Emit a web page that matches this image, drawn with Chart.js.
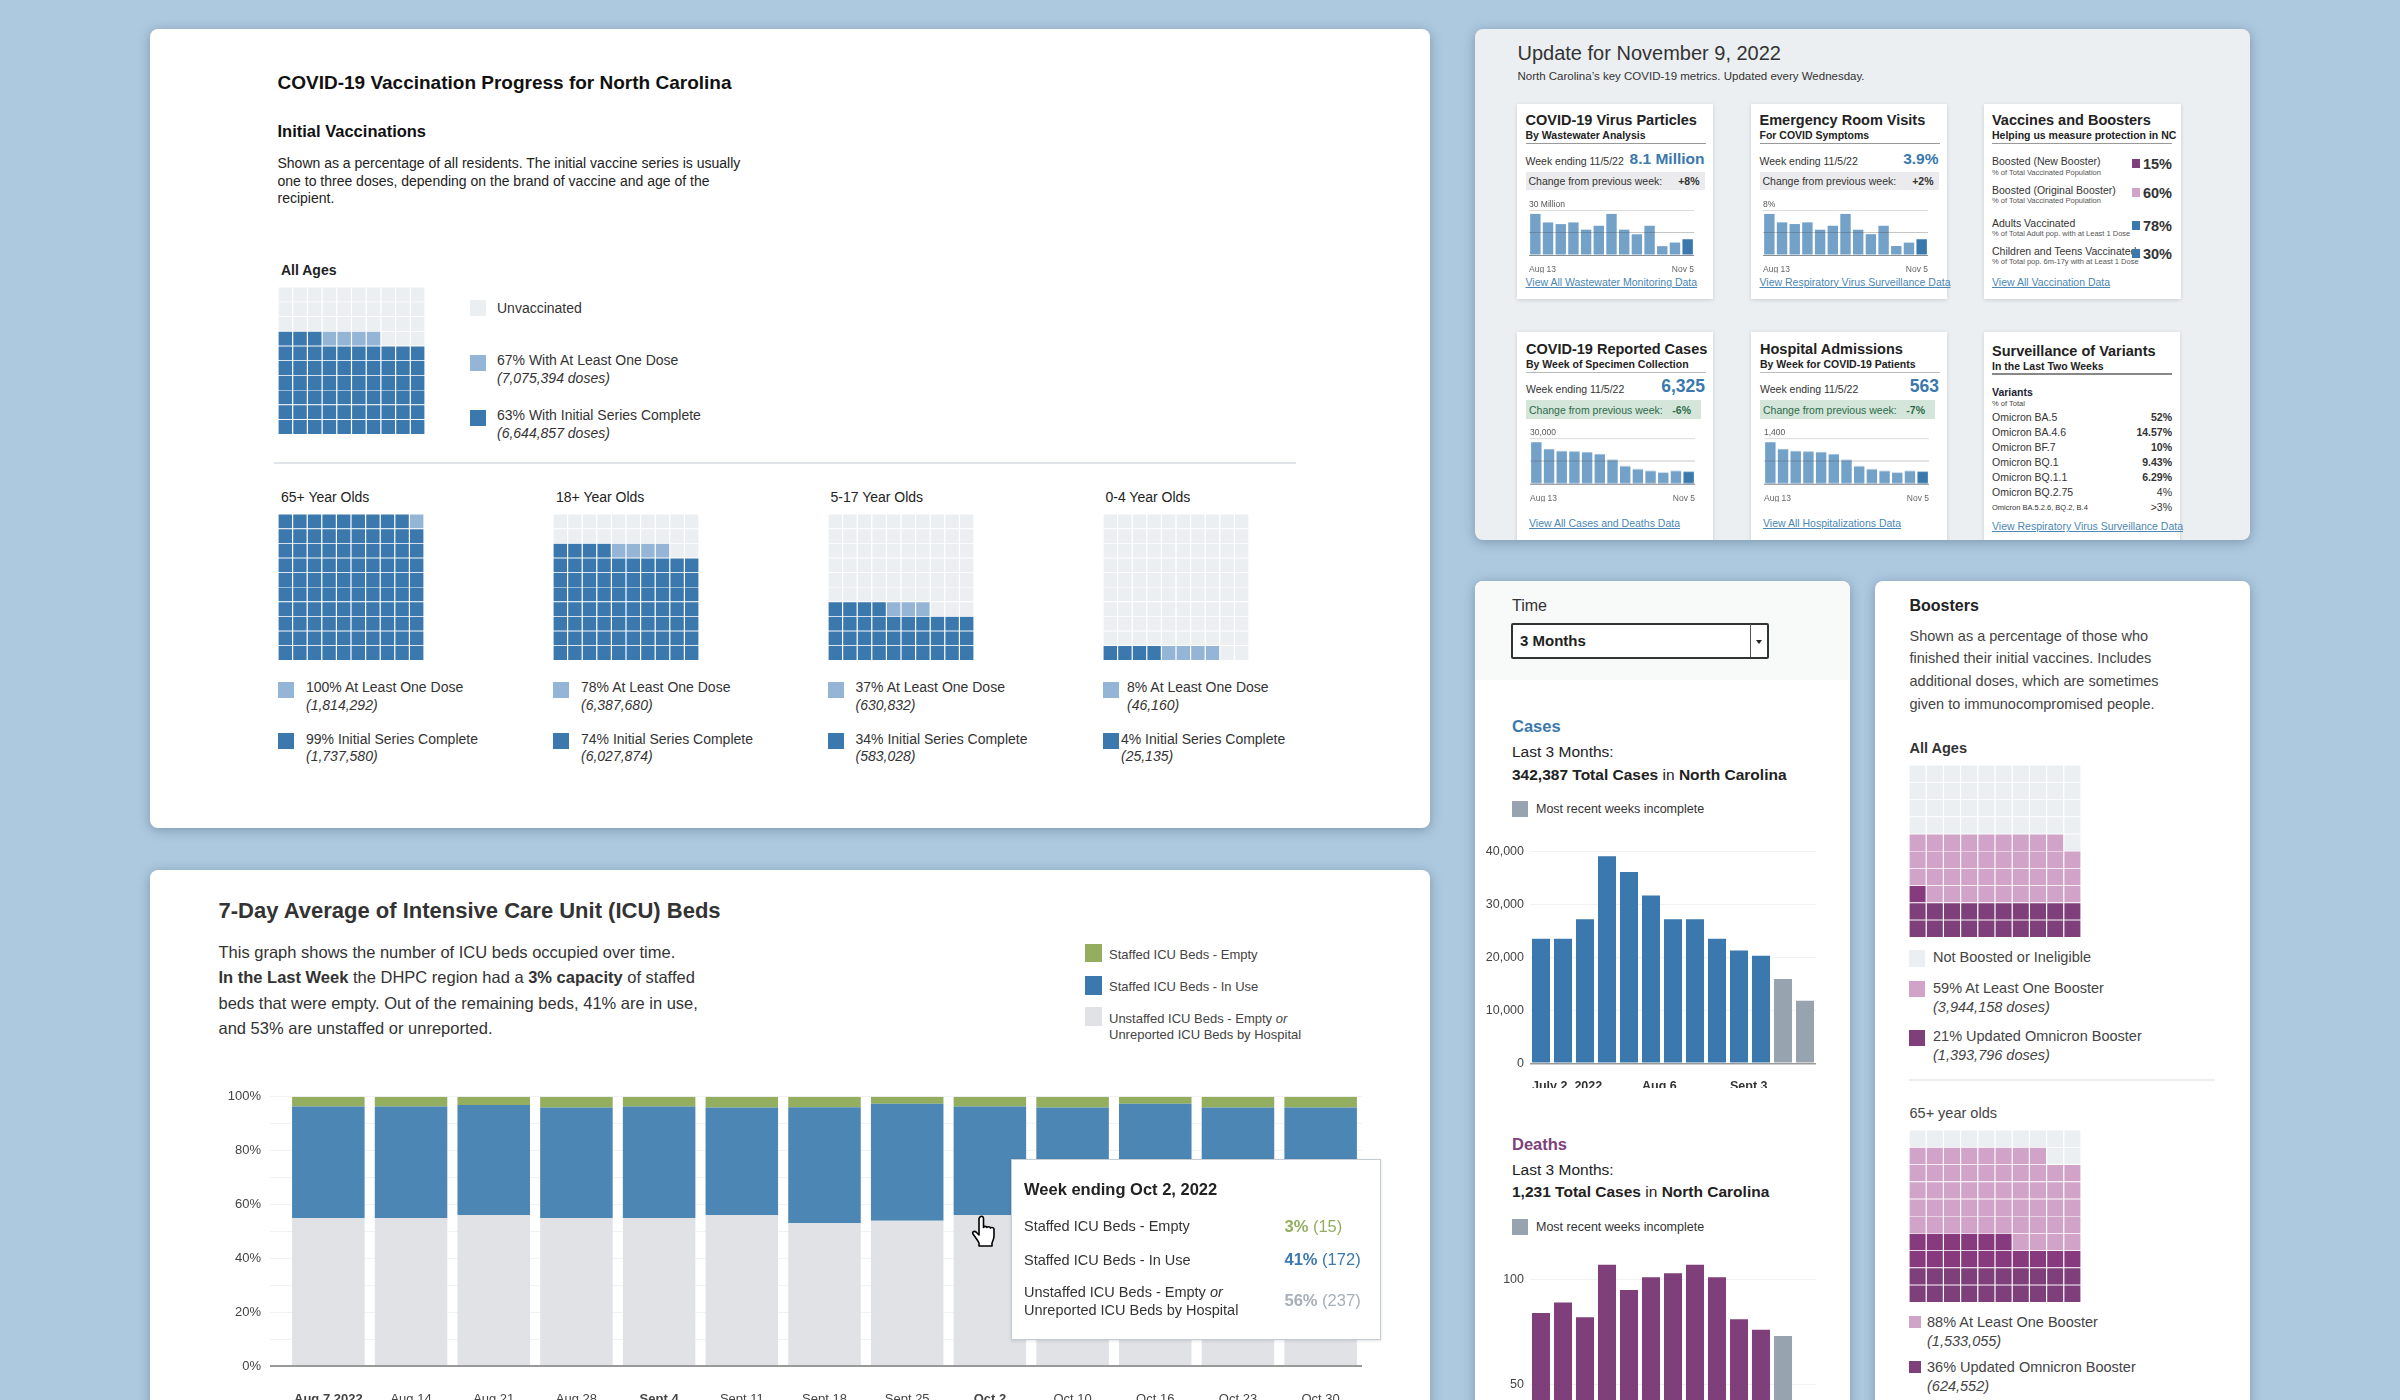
<!DOCTYPE html>
<html>
<head>
<meta charset="utf-8">
<title>COVID-19 dashboard panels</title>
<script src="https://cdn.jsdelivr.net/npm/chart.js@4"></script>
<style>
html, body { margin: 0; padding: 0; width: 2400px; height: 1400px; overflow: hidden; background: #adc9df; }
body { font-family: "Liberation Sans", Arial, sans-serif; color: #333; }
.panel { position: absolute; overflow: hidden; border-radius: 8px; box-shadow: 0 2px 12px rgba(50,75,100,.4); background: #fff; }
.card { position: absolute; background: #fff; box-shadow: 0 1px 4px rgba(0,0,0,.14); }
.t { position: absolute; white-space: nowrap; transform: translateY(-50%); }
.r { transform: translate(-100%,-50%); }
.box { position: absolute; }
canvas { position: absolute; }
a, .lnk { color: #4a87b4; text-decoration: underline; }
</style>
</head>
<body>
<script>
'use strict';

// ICU chart
var icuWeeks = ['Aug 7,2022','Aug 14','Aug 21','Aug 28','Sept 4','Sept 11','Sept 18','Sept 25','Oct 2','Oct 10','Oct 16','Oct 23','Oct 30'];
var icuBold = ['Aug 7,2022','Sept 4','Oct 2'];
var icuUnstaffed = [55,55,56,55,55,56,53,54,56,55,55,55,55];
var icuInUse = [41.4,41.4,41,41,41.4,40,43.1,43.4,40.4,41,42.4,41,41];
var icuEmpty = [3.6,3.6,3,4,3.6,4,3.9,2.6,3.6,4,2.6,4,4];

// cases + deaths, last bars are the incomplete weeks
var weeks = ['July 2, 2022','July 9','July 16','July 23','July 30','Aug 6','Aug 13','Aug 20','Aug 27','Sept 3','Sept 10','Sept 17','Sept 24'];
var weeksShown = ['July 2, 2022','Aug 6','Sept 3'];
var casesValues = [23500,23500,27200,39100,36150,31700,27200,27200,23500,21300,20300,15900,11800];
var deathsValues = [84,89,82,107,95,101,103,107,101,81,76,73,null];
var casesIncompleteFrom = 11;
var deathsIncompleteFrom = 11;

// small charts in the update panel
var miniWeeks = ['Aug 13','Aug 20','Aug 27','Sep 3','Sep 10','Sep 17','Sep 24','Oct 1','Oct 8','Oct 15','Oct 22','Oct 29','Nov 5'];
var virusValues = [27.4,21.7,20.6,21.7,16.9,19.5,27.4,16.9,13.8,19.5,5.9,8.3,10.5];
var erValues = [7.3,5.8,5.5,5.8,4.5,5.2,7.3,4.5,3.7,5.2,1.6,2.2,2.8];
var reportedValues = [27350,22700,21400,21200,20700,19400,15700,11500,9500,8400,7300,8400,7900];
var admissionValues = [1276,1060,999,988,968,905,731,535,443,391,340,391,371];

// waffles, in percent
var initialGroups = ['All Ages','65+ Year Olds','18+ Year Olds','5-17 Year Olds','0-4 Year Olds'];
var initialOneDose = [67,100,78,37,8];
var initialComplete = [63,99,74,34,4];
var oneDoseCounts = ['(7,075,394 doses)','(1,814,292)','(6,387,680)','(630,832)','(46,160)'];
var completeCounts = ['(6,644,857 doses)','(1,737,580)','(6,027,874)','(583,028)','(25,135)'];
var boosterAny = [59,88];
var boosterUpdated = [21,36];

Chart.defaults.font.family = '"Liberation Sans", Arial, sans-serif';
Chart.defaults.color = '#444';
Chart.defaults.animation = false;
Chart.defaults.responsive = false;
Chart.defaults.plugins.legend.display = false;
Chart.defaults.plugins.tooltip.enabled = false;

var BLUE = '#3a78ad', LIGHTBLUE = '#94b5d6', EMPTY = '#ebeff2';
var PURPLE = '#7f3f7a', PURPLE2 = '#883a7e', PINK = '#d2a3c8', GREY = '#97a3ae';

function panel(x, y, w, h, bg) {
  var el = document.createElement('div');
  el.className = 'panel';
  el.style.cssText = 'left:'+x+'px;top:'+y+'px;width:'+w+'px;height:'+h+'px;' + (bg ? 'background:'+bg+';' : '');
  document.body.appendChild(el);
  return {el: el, x: x, y: y};
}

// x,y are page coordinates, y is the middle of the text line
function put(p, html, x, y, css, right) {
  var el = document.createElement('div');
  el.className = right ? 't r' : 't';
  el.style.cssText = 'left:'+(x-p.x)+'px;top:'+(y-p.y)+'px;' + (css || '');
  el.innerHTML = html;
  p.el.appendChild(el);
  return el;
}

function box(p, x, y, w, h, css, cls) {
  var el = document.createElement('div');
  el.className = cls || 'box';
  el.style.cssText = 'left:'+(x-p.x)+'px;top:'+(y-p.y)+'px;width:'+w+'px;height:'+h+'px;' + (css || '');
  p.el.appendChild(el);
  return el;
}

function canvas(p, x, y, w, h) {
  var c = document.createElement('canvas');
  c.width = w; c.height = h;
  c.style.cssText = 'left:'+(x-p.x)+'px;top:'+(y-p.y)+'px;width:'+w+'px;height:'+h+'px;';
  p.el.appendChild(c);
  return c.getContext('2d');
}

function waffle(p, x, y, size, dark, light, darkColor, lightColor, bottomColor) {
  var datasets = [];
  for (var row = 0; row < 10; row++) {
    var ones = [], colors = [];
    for (var col = 0; col < 10; col++) {
      var n = row*10 + col;
      ones.push(1);
      if (n < dark) colors.push(bottomColor && row < 2 ? bottomColor : darkColor);
      else if (n < light) colors.push(lightColor);
      else colors.push(EMPTY);
    }
    datasets.push({data: ones, backgroundColor: colors, borderColor: '#fff', borderWidth: 0.6, inflateAmount: 0, barPercentage: 1, categoryPercentage: 1});
  }
  new Chart(canvas(p, x, y, size, size), {
    type: 'bar',
    data: {labels: [1,2,3,4,5,6,7,8,9,10], datasets: datasets},
    options: {scales: {
      x: {stacked: true, display: false},
      y: {stacked: true, display: false, min: 0, max: 10}
    }}
  });
}

function mini(p, x, top, base, values, maxValue, topLabel) {
  var colors = values.map(function(v, i) { return i === values.length-1 ? BLUE : '#73a1c7'; });
  new Chart(canvas(p, x, top-10, 169, base-top+10+18), {
    type: 'bar',
    data: {labels: miniWeeks, datasets: [{data: values, backgroundColor: colors, barPercentage: 0.82, categoryPercentage: 1}]},
    options: {
      layout: {padding: {top: 10}},
      scales: {
        x: {grid: {display: false}, border: {display: false}, ticks: {display: false},
            afterFit: function(s) { s.height = 0; }},
        ends: {type: 'category', position: 'bottom', offset: false, grid: {display: false}, border: {display: false},
            afterFit: function(s) { s.height = 18; },
            ticks: {autoSkip: false, maxRotation: 0, align: 'inner', padding: 2, color: '#666', font: {size: 8.5},
              callback: function(v, i) { return (i === 0 || i === miniWeeks.length-1) ? miniWeeks[i] : ''; }}},
        y: {min: 0, max: maxValue, border: {display: false},
            grid: {z: 1, drawTicks: false, color: function(c) {
              if (c.tick.value === 0) return '#8a8f94';
              return c.tick.value === maxValue ? '#dcdcdc' : 'rgba(70,70,70,.3)';
            }},
            afterBuildTicks: function(s) { s.ticks = [{value: 0}, {value: maxValue/2}, {value: maxValue}]; },
            ticks: {mirror: true, padding: 0, labelOffset: -5, color: '#555', font: {size: 8.5},
              callback: function(v) { return v === maxValue ? topLabel : ''; }}}
      }
    }
  });
}

function weeklyBars(p, top, paddingTop, height, bottomHeight, values, incompleteFrom, color, maxValue, step) {
  var colors = values.map(function(v, i) { return i >= incompleteFrom ? GREY : color; });
  new Chart(canvas(p, 1480, top, 345, height), {
    type: 'bar',
    data: {labels: weeks, datasets: [{data: values, backgroundColor: colors, barPercentage: 0.82, categoryPercentage: 1}]},
    options: {
      layout: {padding: {top: paddingTop, right: 9}},
      scales: {
        x: {grid: {display: false}, border: {display: false},
            afterFit: function(s) { s.height = bottomHeight; },
            ticks: {autoSkip: false, maxRotation: 0, align: 'start', labelOffset: -9, padding: 8, color: '#333', font: {size: 12.5, weight: 'bold'},
              callback: function(v, i) { return weeksShown.indexOf(weeks[i]) >= 0 ? weeks[i] : ''; }}},
        y: {min: 0, max: maxValue, border: {display: false},
            afterFit: function(s) { s.width = 50; },
            grid: {drawTicks: false, color: function(c) { return c.tick.value === 0 ? '#999' : '#f1f2f3'; }, lineWidth: function(c) { return c.tick.value === 0 ? 1.5 : 1; }},
            ticks: {stepSize: step, includeBounds: false, padding: 6, font: {size: 12.5},
              callback: function(v) { return v.toLocaleString('en-US'); }}}
      }
    }
  });
}

// ---- vaccination panel
var a = panel(150, 29, 1280, 799);
put(a, 'COVID-19 Vaccination Progress for North Carolina', 277.5, 83, 'font:bold 19px "Liberation Sans";color:#111');
put(a, 'Initial Vaccinations', 277.5, 131, 'font:bold 16.5px "Liberation Sans";color:#111');
var introLines = ['Shown as a percentage of all residents. The initial vaccine series is usually','one to three doses, depending on the brand of vaccine and age of the','recipient.'];
introLines.forEach(function(s, i) { put(a, s, 277.5, 163+i*17.5, 'font:14px "Liberation Sans";color:#222'); });
put(a, initialGroups[0], 281, 270, 'font:bold 14px "Liberation Sans";color:#222');
waffle(a, 278, 287, 147, initialComplete[0], initialOneDose[0], BLUE, LIGHTBLUE);
box(a, 470, 300, 16, 16, 'background:'+EMPTY);
put(a, 'Unvaccinated', 497, 308, 'font:14px "Liberation Sans"');
box(a, 470, 355, 16, 16, 'background:'+LIGHTBLUE);
put(a, initialOneDose[0]+'% With At Least One Dose', 497, 360, 'font:14px "Liberation Sans"');
put(a, '<i>'+oneDoseCounts[0]+'</i>', 497, 378, 'font:14px "Liberation Sans"');
box(a, 470, 410, 16, 16, 'background:'+BLUE);
put(a, initialComplete[0]+'% With Initial Series Complete', 497, 415, 'font:14px "Liberation Sans"');
put(a, '<i>'+completeCounts[0]+'</i>', 497, 433, 'font:14px "Liberation Sans"');
box(a, 274, 462, 1022, 2, 'background:#e1e4e8');

var groupX = [278, 553, 827.5, 1102.5];
var doseTextX = [306, 581, 855.5, 1127];
var completeTextX = [306, 581, 855.5, 1121];
for (var g = 0; g < 4; g++) {
  var gx = groupX[g];
  put(a, initialGroups[g+1], gx+3, 497, 'font:14px "Liberation Sans";color:#222');
  waffle(a, gx, 514, 146, initialComplete[g+1], initialOneDose[g+1], BLUE, LIGHTBLUE);
  box(a, gx, 682, 16, 16, 'background:'+LIGHTBLUE);
  put(a, initialOneDose[g+1]+'% At Least One Dose', doseTextX[g], 687, 'font:14px "Liberation Sans"');
  put(a, '<i>'+oneDoseCounts[g+1]+'</i>', doseTextX[g], 705, 'font:14px "Liberation Sans"');
  box(a, gx, 733, 16, 16, 'background:'+BLUE);
  put(a, initialComplete[g+1]+'% Initial Series Complete', completeTextX[g], 738.5, 'font:14px "Liberation Sans"');
  put(a, '<i>'+completeCounts[g+1]+'</i>', completeTextX[g], 756, 'font:14px "Liberation Sans"');
}

// ---- ICU panel
var c = panel(150, 870, 1280, 560);
put(c, '7-Day Average of Intensive Care Unit (ICU) Beds', 218.5, 911, 'font:bold 22px "Liberation Sans";color:#333');
var s17 = 'font:16.5px "Liberation Sans";color:#333';
put(c, 'This graph shows the number of ICU beds occupied over time.', 218.5, 952, s17);
put(c, '<b>In the Last Week</b> the DHPC region had a <b>3% capacity</b> of staffed', 218.5, 977, s17);
put(c, 'beds that were empty. Out of the remaining beds, 41% are in use,', 218.5, 1003, s17);
put(c, 'and 53% are unstaffed or unreported.', 218.5, 1028, s17);
var s13 = 'font:13px "Liberation Sans";color:#444';
box(c, 1085, 944, 17, 18, 'background:#93ae5f');
put(c, 'Staffed ICU Beds - Empty', 1109, 954, s13);
box(c, 1085, 976, 17, 19, 'background:'+BLUE);
put(c, 'Staffed ICU Beds - In Use', 1109, 986, s13);
box(c, 1085, 1007, 17, 19, 'background:#e0e2e6');
put(c, 'Unstaffed ICU Beds - Empty <i>or</i>', 1109, 1018, s13);
put(c, 'Unreported ICU Beds by Hospital', 1109, 1034, s13);

new Chart(canvas(c, 200, 1080, 1180, 320), {
  type: 'bar',
  data: {labels: icuWeeks, datasets: [
    {data: icuUnstaffed, backgroundColor: '#e0e2e6', barPercentage: 0.877, categoryPercentage: 1},
    {data: icuInUse, backgroundColor: '#4b86b4', barPercentage: 0.877, categoryPercentage: 1},
    {data: icuEmpty, backgroundColor: '#93ae5f', barPercentage: 0.877, categoryPercentage: 1}
  ]},
  options: {
    layout: {padding: {top: 10.7, right: 18}},
    scales: {
      x: {stacked: true, grid: {display: false}, border: {display: false},
          afterFit: function(s) { s.height = 34; },
          ticks: {autoSkip: false, maxRotation: 0, padding: 18, color: '#444',
            font: function(ctx) { return {size: 13, weight: icuBold.indexOf(ctx.tick.label) >= 0 ? 'bold' : 'normal'}; }}},
      y: {stacked: true, min: 0, max: 100, border: {display: false},
          afterFit: function(s) { s.width = 87; },
          grid: {tickLength: 17, color: function(ctx) { return ctx.tick.value === 0 ? '#999' : '#f1f2f3'; },
            lineWidth: function(ctx) { return ctx.tick.value === 0 ? 2 : 1; }},
          ticks: {stepSize: 10, padding: 9, autoSkip: false, font: {size: 13},
            callback: function(v) { return v % 20 === 0 ? v+'%' : ''; }}}
    }
  }
});

box(c, 1011, 1159, 368, 179, 'background:#fff;border:1.5px solid #c4ccd4;box-shadow:0 1px 3px rgba(0,0,0,.12)');
put(c, 'Week ending Oct 2, 2022', 1024, 1188.5, 'font:bold 16.5px "Liberation Sans";color:#222');
var s145 = 'font:14.5px "Liberation Sans";color:#333';
put(c, 'Staffed ICU Beds - Empty', 1024, 1226, s145);
put(c, 'Staffed ICU Beds - In Use', 1024, 1260, s145);
put(c, 'Unstaffed ICU Beds - Empty <i>or</i>', 1024, 1292, s145);
put(c, 'Unreported ICU Beds by Hospital', 1024, 1310, s145);
put(c, '<b>3%</b> (15)', 1284.5, 1226, 'font:16.5px "Liberation Sans";color:#93ae5f');
put(c, '<b>41%</b> (172)', 1284.5, 1258.5, 'font:16.5px "Liberation Sans";color:'+BLUE);
put(c, '<b>56%</b> (237)', 1284.5, 1300, 'font:16.5px "Liberation Sans";color:#a7afb8');
var hand = box(c, 971, 1215, 27, 32, '');
hand.innerHTML = '<svg width="27" height="32" viewBox="0 0 27 32"><path d="M9 2c1.5-1.5 3.5-.5 3.5 1.500v9c.5-1.500 3-1.500 3.500 0 .5-1 3-1 3.500.5.5-.8 3-.8 3.500 1v7c0 3-1 5-2 7v3H8v-3c-1-2-3-5-6-9-1-2 1-3.500 3-2l3 3V3.500z" fill="#fff" stroke="#000" stroke-width="1.600" stroke-linejoin="round"/></svg>';

// ---- update panel
var b = panel(1475, 29, 775, 511, '#ebeff2');
put(b, 'Update for November 9, 2022', 1517.5, 53, 'font:20px "Liberation Sans";color:#333');
put(b, 'North Carolina\u2019s key COVID-19 metrics. Updated every Wednesday.', 1517.5, 76, 'font:11.5px "Liberation Sans";color:#333');

function card(x, y, w, h) { box(b, x, y, w, h, '', 'card'); }
function cardHead(x, y, title, sub, ruleWidth, ruleColor) {
  put(b, title, x, y, 'font:bold 14.500px "Liberation Sans";color:#222');
  put(b, sub, x, y+15, 'font:bold 10.500px "Liberation Sans";color:#222');
  box(b, x, y+22.5, ruleWidth, 1.5, 'background:'+ruleColor);
}
function link(x, y, s) { put(b, s, x, y, 'font:10.5px "Liberation Sans"').className += ' lnk'; }

function topCard(x, title, sub, value, change, values, maxValue, topLabel, linkText) {
  card(x, 104, 196, 195);
  var cx = x+8.5;
  cardHead(cx, 120, title, sub, 180, '#999');
  put(b, 'Week ending 11/5/22', cx, 160.5, 'font:10.5px "Liberation Sans";color:#333');
  put(b, value, cx+179, 159, 'font:bold 15.500px "Liberation Sans";color:'+BLUE, true);
  box(b, cx, 172, 179, 18, 'background:#ebebed');
  put(b, 'Change from previous week:', cx+3, 181, 'font:10.5px "Liberation Sans";color:#333');
  put(b, change, cx+174, 181, 'font:bold 10.5px "Liberation Sans";color:#333', true);
  mini(b, x+10, 210, 255.3, values, maxValue, topLabel);
  link(cx, 281.5, linkText);
}
function lowerCard(x, title, sub, value, change, values, maxValue, topLabel, linkText) {
  card(x, 332, 196, 260);
  var cx = x+9;
  cardHead(cx, 349, title, sub, 180, '#bbb');
  put(b, 'Week ending 11/5/22', cx, 389, 'font:10.5px "Liberation Sans";color:#333');
  put(b, value, cx+179, 386, 'font:bold 17.500px "Liberation Sans";color:'+BLUE, true);
  box(b, cx, 400, 175, 19, 'background:#d4e6da');
  put(b, 'Change from previous week:', cx+3, 410, 'font:10.5px "Liberation Sans";color:#2f6b4a');
  put(b, change, cx+165, 410, 'font:bold 10.5px "Liberation Sans";color:#2f6b4a', true);
  mini(b, x+11, 438.3, 483.7, values, maxValue, topLabel);
  link(cx+3, 523, linkText);
}

topCard(1517, 'COVID-19 Virus Particles', 'By Wastewater Analysis', '8.1 Million', '+8%', virusValues, 30, '30 Million', 'View All Wastewater Monitoring Data');
topCard(1751, 'Emergency Room Visits', 'For COVID Symptoms', '3.9%', '+2%', erValues, 8, '8%', 'View Respiratory Virus Surveillance Data');
lowerCard(1517, 'COVID-19 Reported Cases', 'By Week of Specimen Collection', '6,325', '-6%', reportedValues, 30000, '30,000', 'View All Cases and Deaths Data');
lowerCard(1751, 'Hospital Admissions', 'By Week for COVID-19 Patients', '563', '-7%', admissionValues, 1400, '1,400', 'View All Hospitalizations Data');

// vaccines card
card(1984, 104, 197, 195);
cardHead(1992, 120, 'Vaccines and Boosters', 'Helping us measure protection in NC', 180, '#999');
var vaxNames = ['Boosted (New Booster)','Boosted (Original Booster)','Adults Vaccinated','Children and Teens Vaccinated'];
var vaxNotes = ['% of Total Vaccinated Population','% of Total Vaccinated Population','% of Total Adult pop. with at Least 1 Dose','% of Total pop. 6m-17y with at Least 1 Dose'];
var vaxPercent = ['15%','60%','78%','30%'];
var vaxColors = [PURPLE, PINK, BLUE, BLUE];
var vaxY = [161, 189.5, 222.5, 250.5];
vaxNames.forEach(function(name, i) {
  put(b, name, 1992, vaxY[i], 'font:10.5px "Liberation Sans";color:#333');
  put(b, vaxNotes[i], 1992, vaxY[i]+10.5, 'font:7.5px "Liberation Sans";color:#555');
  put(b, vaxPercent[i], 2172, vaxY[i]+3, 'font:bold 14.5px "Liberation Sans";color:#333', true);
  box(b, 2132, vaxY[i]-2, 8, 9, 'background:'+vaxColors[i]);
});
link(1992, 281.5, 'View All Vaccination Data');

// variants card
card(1984, 332, 196, 260);
put(b, 'Surveillance of Variants', 1992, 351, 'font:bold 14.5px "Liberation Sans";color:#222');
put(b, 'In the Last Two Weeks', 1992, 366, 'font:bold 10.5px "Liberation Sans";color:#222');
box(b, 1992, 373, 180, 1.5, 'background:#888');
put(b, 'Variants', 1992, 391.5, 'font:bold 10.5px "Liberation Sans";color:#223');
put(b, '% of Total', 1992, 402.5, 'font:7.5px "Liberation Sans";color:#444');
var variantNames = ['Omicron BA.5','Omicron BA.4.6','Omicron BF.7','Omicron BQ.1','Omicron BQ.1.1','Omicron BQ.2.75','Omicron BA.5.2.6, BQ.2, B.4'];
var variantShare = ['52%','14.57%','10%','9.43%','6.29%','4%','>3%'];
var variantY = [416.7,431.7,446.7,461.7,476.7,491.7,507.3];
variantNames.forEach(function(name, i) {
  put(b, name, 1992, variantY[i], 'font:'+(i === 6 ? '7.5' : '10.5')+'px "Liberation Sans";color:#333');
  put(b, variantShare[i], 2172, variantY[i], 'font:'+(i < 5 ? 'bold ' : '')+'10.5px "Liberation Sans";color:#333', true);
});
link(1992, 526, 'View Respiratory Virus Surveillance Data');

// ---- time panel with cases and deaths
var d = panel(1475, 581, 375, 850);
box(d, 1475, 581, 375, 99, 'background:#f8f9f9');
put(d, 'Time', 1512, 606, 'font:16px "Liberation Sans";color:#333');
box(d, 1511, 623, 254, 32, 'background:#fff;border:2px solid #333;border-radius:2px');
box(d, 1749.5, 624, 1, 33, 'background:#555');
put(d, '3 Months', 1520, 640, 'font:bold 15px "Liberation Sans";color:#222');
box(d, 1755.5, 639.5, 0, 0, 'border-left:3.5px solid transparent;border-right:3.5px solid transparent;border-top:4px solid #222');

put(d, 'Cases', 1512, 726, 'font:bold 16.5px "Liberation Sans";color:'+BLUE);
put(d, 'Last 3 Months:', 1512, 752, 'font:15.5px "Liberation Sans";color:#222');
put(d, '<b>342,387 Total Cases</b> in <b>North Carolina</b>', 1512, 775, 'font:15.5px "Liberation Sans";color:#222');
box(d, 1512, 801, 16, 16, 'background:'+GREY);
put(d, 'Most recent weeks incomplete', 1536, 809, 'font:12.5px "Liberation Sans";color:#333');
weeklyBars(d, 838, 10, 250, 24.7, casesValues, casesIncompleteFrom, BLUE, 40000, 10000);

put(d, 'Deaths', 1512, 1144, 'font:bold 16.5px "Liberation Sans";color:#7f3f7a');
put(d, 'Last 3 Months:', 1512, 1170, 'font:15.5px "Liberation Sans";color:#222');
put(d, '<b>1,231 Total Cases</b> in <b>North Carolina</b>', 1512, 1192, 'font:15.5px "Liberation Sans";color:#222');
box(d, 1512, 1219, 16, 16, 'background:'+GREY);
put(d, 'Most recent weeks incomplete', 1536, 1227, 'font:12.5px "Liberation Sans";color:#333');
weeklyBars(d, 1245, 6.4, 268, 24, deathsValues, deathsIncompleteFrom, PURPLE, 110, 50);

// ---- boosters panel
var e = panel(1875, 581, 375, 850);
var s14 = 'font:14.5px "Liberation Sans";color:#444';
put(e, 'Boosters', 1909.5, 606, 'font:bold 16px "Liberation Sans";color:#222');
var boosterIntro = ['Shown as a percentage of those who','finished their initial vaccines. Includes','additional doses, which are sometimes','given to immunocompromised people.'];
boosterIntro.forEach(function(s, i) { put(e, s, 1909.5, 635.7+i*22.7, s14); });
put(e, 'All Ages', 1909.5, 748, 'font:bold 14.5px "Liberation Sans";color:#333');
waffle(e, 1909, 765, 172, boosterUpdated[0], boosterAny[0], PURPLE2, PINK, PURPLE);
box(e, 1909, 950, 16, 17, 'background:'+EMPTY);
put(e, 'Not Boosted or Ineligible', 1933, 957, s14);
box(e, 1909, 981, 16, 16, 'background:'+PINK);
put(e, boosterAny[0]+'% At Least One Booster', 1933, 987.5, s14);
put(e, '<i>(3,944,158 doses)</i>', 1933, 1007, s14);
box(e, 1909, 1030, 16, 16, 'background:'+PURPLE);
put(e, boosterUpdated[0]+'% Updated Omnicron Booster', 1933, 1036, s14);
put(e, '<i>(1,393,796 doses)</i>', 1933, 1055, s14);
box(e, 1909, 1079, 306, 2, 'background:#eceef0');
put(e, '65+ year olds', 1909.5, 1113, s14);
waffle(e, 1909, 1130, 172, boosterUpdated[1], boosterAny[1], PURPLE2, PINK, PURPLE);
box(e, 1909, 1316, 12, 12, 'background:'+PINK);
put(e, boosterAny[1]+'% At Least One Booster', 1927, 1322, s14);
put(e, '<i>(1,533,055)</i>', 1927, 1341, s14);
box(e, 1909, 1361, 12, 12, 'background:'+PURPLE);
put(e, boosterUpdated[1]+'% Updated Omnicron Booster', 1927, 1367, s14);
put(e, '<i>(624,552)</i>', 1927, 1386, s14);
</script>
</body>
</html>
